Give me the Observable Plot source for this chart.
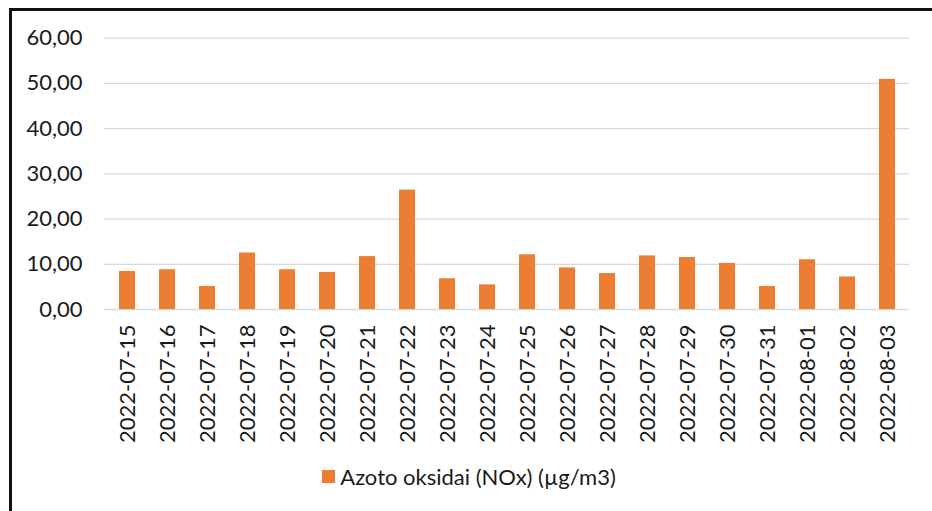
<!DOCTYPE html>
<html>
<head>
<meta charset="utf-8">
<script src="https://cdn.jsdelivr.net/npm/d3@7"></script>
<script src="https://cdn.jsdelivr.net/npm/@observablehq/plot@0.6"></script>
<style>
  html, body { margin: 0; padding: 0; background: #fff; }
  #wrap { position: relative; width: 932px; height: 511px; overflow: hidden; font-family: Lato, "Open Sans", sans-serif; }
  #frame { position: absolute; left: 9px; top: 8px; width: 1000px; height: 1000px; border-left: 3px solid #111; border-top: 3px solid #111; box-sizing: border-box; pointer-events: none; }
  #chart { position: absolute; left: 0; top: 0; }
  #legend { position: absolute; left: 0; top: 463px; width: 932px; height: 26px; display: flex; justify-content: center; align-items: center; font-size: 22px; color: #1a1a1a; }
  #legend .sw { width: 13px; height: 13px; background: #ED7D31; margin-right: 5px; margin-left: 6px; }
</style>
</head>
<body>
<div id="wrap">
  <div id="chart"></div>
  <div id="frame"></div>
  <div id="legend"><span class="sw"></span><span id="legtext"></span></div>
</div>
<script>
const dates = ["2022-07-15","2022-07-16","2022-07-17","2022-07-18","2022-07-19","2022-07-20","2022-07-21","2022-07-22","2022-07-23","2022-07-24","2022-07-25","2022-07-26","2022-07-27","2022-07-28","2022-07-29","2022-07-30","2022-07-31","2022-08-01","2022-08-02","2022-08-03"];
const values = [8.4, 8.8, 5.1, 12.5, 8.8, 8.2, 11.7, 26.4, 6.8, 5.45, 12.1, 9.2, 7.95, 11.85, 11.5, 10.2, 5.1, 11.0, 7.2, 50.9];
const yTicks = [0, 10, 20, 30, 40, 50, 60];
const seriesName = "Azoto oksidai (NOx) (µg/m3)";

const data = dates.map((d, i) => ({date: d, value: values[i]}));
document.getElementById("legtext").textContent = seriesName;

const fmt = v => d3.format(".2f")(v).replace(".", ",");

const chart = Plot.plot({
  width: 932,
  height: 450,
  marginLeft: 104,
  marginRight: 23,
  marginTop: 37.7,
  marginBottom: 141,
  style: {fontFamily: "Lato, 'Open Sans', sans-serif", fontSize: "22px", color: "#1a1a1a", background: "transparent"},
  x: {domain: dates, type: "band", paddingInner: 0.6, paddingOuter: 0.3, label: null},
  y: {domain: [0, 60], label: null},
  marks: [
    Plot.ruleY(yTicks, {stroke: "#d9d9d9", strokeWidth: 1.3}),
    Plot.barY(data, {x: "date", y: "value", fill: "#ED7D31"}),
    Plot.axisY(yTicks, {tickSize: 0, tickPadding: 22, tickFormat: fmt, fontSize: 22, label: null}),
    Plot.axisX({tickSize: 0, tickPadding: 15, tickRotate: -90, fontSize: 22, label: null})
  ]
});
document.getElementById("chart").appendChild(chart);
</script>
</body>
</html>
